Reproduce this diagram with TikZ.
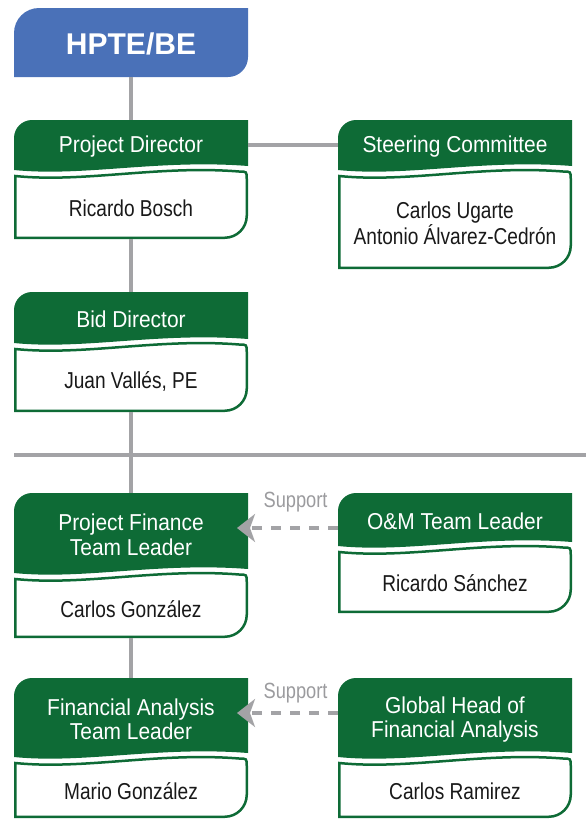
\documentclass[tikz,border=0pt]{standalone}
\usepackage{fontspec}
\setmainfont{Liberation Sans}
\newfontfamily\headfont[FakeStretch=0.91]{Liberation Sans}
\newfontfamily\bodyfont[FakeStretch=0.83]{Liberation Sans}
\usepackage{tikz}
\usetikzlibrary{calc, arrows.meta, positioning}

\definecolor{hpgreen}{RGB}{14,107,54}
\definecolor{hpblue}{RGB}{74,113,184}
\definecolor{hpgray}{RGB}{163,163,166}

\tikzset{
  headtxt/.style={text=white, align=center, inner sep=0pt,
    font=\headfont\fontsize{23}{24.5}\selectfont},
  bodytxt/.style={text=black!90, align=center, inner sep=0pt,
    font=\bodyfont\fontsize{23}{24}\selectfont},
  suplabel/.style={text=hpgray!95!black, inner sep=0pt,
    font=\bodyfont\fontsize{22}{23}\selectfont},
  link/.style={draw=hpgray, line width=4.5pt},
  support/.style={draw=hpgray, line width=4.5pt, dash pattern=on 10pt off 9pt,
    -{Stealth[length=18pt,width=28pt,inset=5pt]}}
}

% #1 name, #2 left, #3 top, #4 header bottom, #5 bottom, #6 title, #7 person
\newcommand{\orgbox}[7]{%
  \fill[hpgreen] (#2,#4) -- (#2,#3+18) arc[start angle=180,end angle=90,radius=18pt]
    -- (#2+234,#3) -- (#2+234,#4-4)
    .. controls (#2+144,#4-11) and (#2+70,#4+7) .. (#2,#4) -- cycle;
  \draw[hpgreen,line width=2.5pt,fill=white] (#2+1.25,#4+6)
    .. controls (#2+70,#4+13) and (#2+144,#4-5) .. (#2+225,#4+1.5)
    .. controls (#2+232.75,#4+1.5) .. (#2+232.75,#4+9)
    -- (#2+232.75,#5-23.25) arc[start angle=0,end angle=-90,radius=22pt]
    -- (#2+1.25,#5-1.25) -- cycle;
  \node[headtxt] (#1) at (#2+117,{(#3+#4)/2+2}) {#6};
  \node[bodytxt] (#1-name) at (#2+117,{(#4+5+#5)/2+1}) {#7};
  \coordinate (#1-n) at (#2+117,#3);
  \coordinate (#1-s) at (#2+117,#5);
  \coordinate (#1-e) at (#2+234,{(#3+#4)/2});
  \coordinate (#1-w) at (#2,{(#3+#4)/2});
}

\begin{document}
\begin{tikzpicture}[x=1pt,y=-1pt]
  \useasboundingbox (0,0) rectangle (586,823);

  % top box
  \fill[hpblue] (14,77) -- (14,33) arc[start angle=180,end angle=90,radius=25pt]
    -- (248,8) -- (248,57) arc[start angle=0,end angle=-90,radius=20pt] -- cycle;
  \node[text=white, font=\bfseries\fontsize{30}{32}\selectfont] (hpte) at (131,44) {HPTE/BE};
  \coordinate (hpte-s) at (131,77);

  \orgbox{pd}{14}{120}{170}{239}{Project Director}{Ricardo Bosch}
  \orgbox{sc}{338}{120}{170}{269}{Steering Committee}{Carlos Ugarte\\Antonio Álvarez-Cedrón}
  \orgbox{bid}{14}{292}{343}{412}{Bid Director}{Juan Vallés, PE}
  \orgbox{pf}{14}{493}{573}{638}{Project Finance\\Team Leader}{Carlos González}
  \orgbox{om}{338}{493}{546}{613}{O\&M Team Leader}{Ricardo Sánchez}
  \orgbox{fa}{14}{678}{757}{818}{Financial Analysis\\Team Leader}{Mario González}
  \orgbox{gh}{338}{678}{757}{818}{Global Head of\\Financial Analysis}{Carlos Ramirez}

  % reporting lines
  \draw[link] (hpte-s) -- (pd-n);
  \draw[link] (pd-s) -- (bid-n);
  \draw[link] (bid-s) -- (pf-n);
  \draw[link] (pf-s) -- (fa-n);
  \draw[link] (pd-e) -- (sc-w);
  \draw[link] (14,455) -- (586,455); % divider

  % support arrows
  \coordinate (row1) at (0,528);
  \coordinate (row2) at (0,713);
  \draw[support] (om-w |- row1) -- ($(pf-e |- row1)+(-11,0)$)
    node[suplabel, pos=0.42, above=13.5pt] {Support};
  \draw[support] (gh-w |- row2) -- ($(fa-e |- row2)+(-11,0)$)
    node[suplabel, pos=0.42, above=7.5pt] {Support};
\end{tikzpicture}
\end{document}
